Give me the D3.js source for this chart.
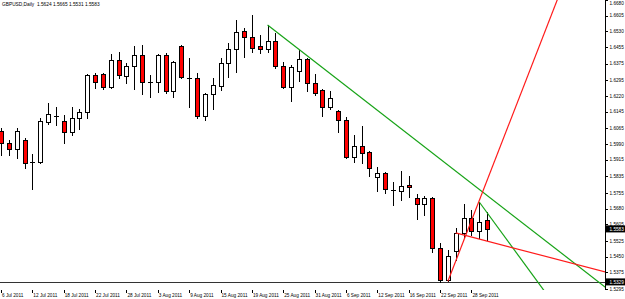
<!DOCTYPE html>
<html>
<head>
<meta charset="utf-8">
<script src="https://cdn.jsdelivr.net/npm/d3@7"></script>
<style>
  body { margin: 0; background: #fff; }
  svg { display: block; }
  text { font-family: "Liberation Sans", Arial, sans-serif; }
</style>
</head>
<body>
<div id="chart"></div>
<script>
// GBPUSD daily, 6 Jul 2011 .. 30 Sep 2011
const opens = [1.6053,1.5995,1.5966,1.6009,1.5904,1.5904,1.6096,1.6124,1.6100,1.6048,1.6115,1.6144,1.6321,1.6326,1.6263,1.6393,1.6316,1.6364,1.6417,1.6287,1.6287,1.6417,1.6244,1.6460,1.6306,1.6306,1.6124,1.6230,1.6268,1.6378,1.6445,1.6532,1.6503,1.6460,1.6445,1.6484,1.6364,1.6263,1.6340,1.6397,1.6282,1.6249,1.6167,1.6148,1.6105,1.5928,1.5981,1.5952,1.5832,1.5851,1.5770,1.5765,1.5794,1.5732,1.5703,1.5732,1.5492,1.5337,1.5478,1.5564,1.5636,1.5573,1.5624];
const highs = [1.6067,1.6009,1.6067,1.6019,1.5942,1.6115,1.6187,1.6167,1.6129,1.6167,1.6158,1.6326,1.6330,1.6330,1.6421,1.6431,1.6378,1.6460,1.6464,1.6321,1.6421,1.6426,1.6388,1.6464,1.6402,1.6330,1.6235,1.6306,1.6402,1.6474,1.6584,1.6546,1.6608,1.6512,1.6560,1.6522,1.6383,1.6369,1.6440,1.6402,1.6326,1.6254,1.6244,1.6153,1.6120,1.6033,1.6076,1.5955,1.5880,1.5855,1.5808,1.5861,1.5837,1.5751,1.5741,1.5735,1.5516,1.5483,1.5588,1.5703,1.5674,1.5712,1.5665];
const lows = [1.5938,1.5938,1.5923,1.5875,1.5775,1.5899,1.6086,1.6081,1.5995,1.6033,1.6062,1.6115,1.6258,1.6254,1.6258,1.6306,1.6282,1.6254,1.6230,1.6215,1.6239,1.6235,1.6215,1.6306,1.6167,1.6115,1.6105,1.6158,1.6249,1.6311,1.6335,1.6407,1.6431,1.6426,1.6431,1.6354,1.6258,1.6196,1.6292,1.6244,1.6225,1.6124,1.6158,1.6048,1.5923,1.5904,1.5899,1.5837,1.5765,1.5756,1.5698,1.5722,1.5736,1.5631,1.5650,1.5473,1.5329,1.5332,1.5435,1.5545,1.5554,1.5540,1.5531];
const closes = [1.5995,1.5966,1.6053,1.5899,1.5906,1.6100,1.6134,1.6126,1.6048,1.6115,1.6144,1.6321,1.6287,1.6263,1.6393,1.6321,1.6364,1.6417,1.6287,1.6285,1.6417,1.6244,1.6383,1.6311,1.6304,1.6124,1.6230,1.6273,1.6378,1.6445,1.6527,1.6503,1.6450,1.6445,1.6484,1.6364,1.6263,1.6359,1.6397,1.6282,1.6235,1.6167,1.6211,1.6105,1.5928,1.5981,1.5947,1.5875,1.5851,1.5775,1.5768,1.5789,1.5784,1.5703,1.5732,1.5492,1.5340,1.5454,1.5564,1.5636,1.5573,1.5617,1.5583];

// date labels every 4 bars
const dateLabels = ["6 Jul 2011","12 Jul 2011","18 Jul 2011","22 Jul 2011","28 Jul 2011","3 Aug 2011","9 Aug 2011","15 Aug 2011","19 Aug 2011","25 Aug 2011","31 Aug 2011","6 Sep 2011","12 Sep 2011","16 Sep 2011","22 Sep 2011","28 Sep 2011"];
const priceTicks = [1.6680,1.6605,1.6530,1.6455,1.6375,1.6295,1.6220,1.6145,1.6065,1.5990,1.5915,1.5835,1.5755,1.5680,1.5605,1.5525,1.5450,1.5375,1.5295];

// trend lines: [bar, price] -> [bar, price], drawn as rays to the right
const greenLines = [[34, 1.6560, 77.04, 1.5305], [61, 1.5712, 69.1, 1.5296]];
const redLines = [[57, 1.5332, 64.5, 1.6057], [58, 1.5564, 77.04, 1.5377]];
const hLine = 1.5329;
const lastPrice = 1.5583;
const header = "GBPUSD,Daily  1.5624 1.5665 1.5531 1.5583";

const width = 625, height = 299;
const plotRight = 605, plotBottom = 290;

const svg = d3.select("#chart").append("svg")
  .attr("width", width).attr("height", height);

const x = d3.scaleLinear().domain([0, 62]).range([1, 1 + 62 * 7.84]);
const y = d3.scaleLinear().domain([1.5295, 1.6680]).range([289, 0]);

svg.append("clipPath").attr("id", "plot")
  .append("rect").attr("x", 0).attr("y", 0).attr("width", plotRight).attr("height", plotBottom);

const bars = d3.range(opens.length).map(i => ({
  i, o: opens[i], h: highs[i], l: lows[i], c: closes[i]
}));

const g = svg.append("g").attr("clip-path", "url(#plot)");

// horizontal line
g.append("line")
  .attr("x1", 0).attr("x2", plotRight)
  .attr("y1", Math.round(y(hLine)) + 0.5).attr("y2", Math.round(y(hLine)) + 0.5)
  .attr("stroke", "#333").attr("stroke-width", 1);

// candles
const cx = d => Math.round(x(d.i));

g.append("g").selectAll("line")
  .data(bars).join("line")
  .attr("x1", d => cx(d) + 0.5).attr("x2", d => cx(d) + 0.5)
  .attr("y1", d => Math.round(y(d.h))).attr("y2", d => Math.round(y(d.l)) + 1)
  .attr("stroke", "#000").attr("stroke-width", 1);

g.append("g").selectAll("rect")
  .data(bars.filter(d => Math.abs(Math.round(y(d.o)) - Math.round(y(d.c))) >= 1))
  .join("rect")
  .attr("x", d => cx(d) - 1.5)
  .attr("y", d => Math.round(y(Math.max(d.o, d.c))) + 0.5)
  .attr("width", 4)
  .attr("height", d => Math.abs(Math.round(y(d.o)) - Math.round(y(d.c))))
  .attr("fill", d => d.c >= d.o ? "#fff" : "#ff0000")
  .attr("stroke", "#000").attr("stroke-width", 1);

g.append("g").selectAll("line")
  .data(bars.filter(d => Math.abs(Math.round(y(d.o)) - Math.round(y(d.c))) < 1))
  .join("line")
  .attr("x1", d => cx(d) - 2).attr("x2", d => cx(d) + 3)
  .attr("y1", d => Math.round(y(d.c)) + 0.5).attr("y2", d => Math.round(y(d.c)) + 0.5)
  .attr("stroke", "#000").attr("stroke-width", 1);

// trend lines as rays
function ray(sel, data, color) {
  sel.selectAll(null).data(data).join("line")
    .attr("x1", d => x(d[0])).attr("y1", d => y(d[1]))
    .attr("x2", d => x(d[0]) + (x(d[2]) - x(d[0])) * 10)
    .attr("y2", d => y(d[1]) + (y(d[3]) - y(d[1])) * 10)
    .attr("stroke", color).attr("stroke-width", 1.2);
}
ray(g.append("g"), greenLines, "#17a317");
ray(g.append("g"), redLines, "#ff1a1a");

// price axis
svg.append("line")
  .attr("x1", plotRight + 0.5).attr("x2", plotRight + 0.5)
  .attr("y1", 0).attr("y2", plotBottom)
  .attr("stroke", "#000");

const yAxis = svg.append("g");
yAxis.selectAll("line").data(priceTicks).join("line")
  .attr("x1", plotRight + 1).attr("x2", plotRight + 3)
  .attr("y1", d => Math.round(y(d)) + 0.5).attr("y2", d => Math.round(y(d)) + 0.5)
  .attr("stroke", "#000");
yAxis.selectAll("text").data(priceTicks).join("text")
  .attr("x", plotRight + 4.5).attr("y", d => Math.max(y(d) + 1.7, 4.5))
  .attr("font-size", 4.7).attr("fill", "#000")
  .text(d => d.toFixed(4));

// highlighted price boxes
const boxes = [lastPrice, hLine];
const bx = svg.append("g");
bx.selectAll("rect").data(boxes).join("rect")
  .attr("x", plotRight + 1).attr("y", d => y(d) - 3.5)
  .attr("width", width - plotRight - 1).attr("height", 7)
  .attr("fill", "#000");
bx.selectAll("text").data(boxes).join("text")
  .attr("x", plotRight + 4.5).attr("y", d => y(d) + 1.7)
  .attr("font-size", 4.7).attr("fill", "#fff")
  .text(d => d.toFixed(4));

// date axis
const xAxis = svg.append("g");
const labelBars = dateLabels.map((t, k) => ({ t, i: k * 4 }));
xAxis.selectAll("line").data(labelBars).join("line")
  .attr("x1", d => Math.round(x(d.i)) + 0.5).attr("x2", d => Math.round(x(d.i)) + 0.5)
  .attr("y1", plotBottom).attr("y2", plotBottom + 3)
  .attr("stroke", "#000");
xAxis.selectAll("text").data(labelBars).join("text")
  .attr("x", d => x(d.i) + 1).attr("y", 297)
  .attr("font-size", 4.7).attr("fill", "#000")
  .text(d => d.t);

// header
svg.append("text")
  .attr("x", 2).attr("y", 6)
  .attr("font-size", 4.8).attr("fill", "#000")
  .style("white-space", "pre")
  .text(header);
</script>
</body>
</html>
